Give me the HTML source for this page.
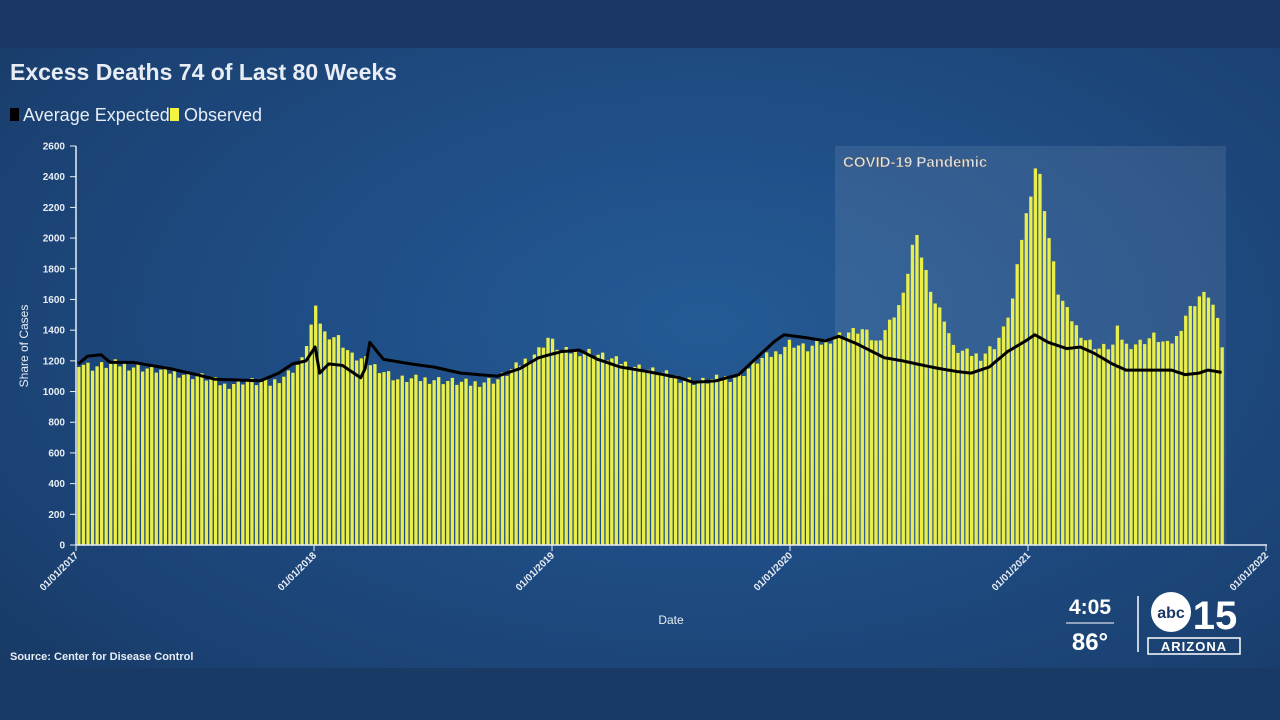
<!DOCTYPE html>
<html><head><meta charset="utf-8"><style>
body{margin:0;width:1280px;height:720px;overflow:hidden;background:#1a3d6e;font-family:"Liberation Sans",sans-serif}
#bg{position:absolute;left:0;top:0;width:1280px;height:720px;background:radial-gradient(ellipse at 55% 45%,#255a94 0%,#1f4d85 40%,#1a4070 80%,#163760 100%)}
#top{position:absolute;left:0;top:0;width:1280px;height:48px;background:#1a3863}
#bot{position:absolute;left:0;top:668px;width:1280px;height:52px;background:#1a3a66}
svg{position:absolute;left:0;top:0}
</style></head><body>
<div id="bg"></div><div id="top"></div><div id="bot"></div>
<svg id="s" width="1280" height="720" xmlns="http://www.w3.org/2000/svg">
<text x="10" y="80" fill="#e8edf5" font-size="23" font-weight="bold" font-family="Liberation Sans Narrow, Liberation Sans, sans-serif">Excess Deaths 74 of Last 80 Weeks</text>
<rect x="10" y="108" width="9" height="13" fill="#000"/>
<text x="23" y="121" fill="#e8edf5" font-size="18" font-family="Liberation Sans Narrow, Liberation Sans, sans-serif">Average Expected</text>
<rect x="170" y="108" width="9" height="13" fill="#f3f542"/>
<text x="184" y="121" fill="#e8edf5" font-size="18" font-family="Liberation Sans Narrow, Liberation Sans, sans-serif">Observed</text>
<rect x="835" y="146" width="391" height="399" fill="rgba(255,255,255,0.09)"/>
<text x="843" y="167" fill="#dfe5ee" font-size="15" font-weight="bold" stroke="#555" stroke-width="0.5" font-family="Liberation Sans Narrow, Liberation Sans, sans-serif">COVID-19 Pandemic</text>
<g id="bars"></g>
<polyline id="line" fill="none" stroke="#000" stroke-width="3" stroke-linejoin="round"/>
<g id="axes" fill="#e8edf5" font-size="10" font-weight="bold" font-family="Liberation Sans Narrow, Liberation Sans, sans-serif"></g>
<text x="671" y="624" fill="#e8edf5" font-size="12" text-anchor="middle">Date</text>
<text transform="translate(28,346) rotate(-90)" fill="#e8edf5" font-size="12" text-anchor="middle">Share of Cases</text>
<text x="10" y="660" fill="#e8edf5" font-size="11" font-weight="bold">Source: Center for Disease Control</text>
<text x="1090" y="614" fill="#fff" font-size="21" font-weight="bold" text-anchor="middle">4:05</text>
<line x1="1066" y1="623" x2="1114" y2="623" stroke="#fff" stroke-width="1"/>
<text x="1090" y="650" fill="#fff" font-size="24" font-weight="bold" text-anchor="middle">86°</text>
<line x1="1138" y1="596" x2="1138" y2="652" stroke="#fff" stroke-width="1.5"/>
<circle cx="1171" cy="612" r="20" fill="#fff"/>
<text x="1171" y="618" fill="#1a3863" font-size="16" font-weight="bold" text-anchor="middle">abc</text>
<text x="1215" y="629" fill="#fff" font-size="40" font-weight="bold" text-anchor="middle">15</text>
<rect x="1148" y="638" width="92" height="16" fill="none" stroke="#fff" stroke-width="1.5"/>
<text x="1194" y="651" fill="#fff" font-size="13" font-weight="bold" text-anchor="middle" letter-spacing="1">ARIZONA</text>
</svg>
<script>
var obs=[[0,1190],[3,1160],[8,1180],[15,1150],[22,1120],[28,1090],[32,1040],[36,1070],[42,1050],[46,1120],[49,1200],[51,1430],[52,1530],[54,1380],[57,1350],[60,1230],[63,1200],[66,1150],[70,1080],[78,1080],[86,1050],[92,1080],[97,1180],[101,1270],[103,1350],[106,1260],[112,1260],[118,1200],[124,1150],[130,1100],[136,1060],[140,1080],[145,1100],[149,1200],[153,1250],[156,1320],[160,1280],[164,1330],[168,1380],[172,1400],[175,1320],[178,1450],[181,1620],[183,1950],[184,1990],[186,1780],[188,1580],[190,1480],[192,1280],[195,1250],[198,1230],[201,1300],[203,1400],[205,1600],[207,2000],[209,2300],[210,2460],[211,2400],[213,2000],[215,1650],[217,1520],[219,1420],[221,1340],[224,1280],[227,1300],[228,1400],[230,1300],[233,1320],[236,1360],[239,1300],[241,1350],[243,1500],[246,1620],[248,1630],[249,1560],[250,1450],[251,1300]];
var exp=[[0,1180],[2,1230],[5,1240],[7,1190],[12,1190],[20,1150],[26,1110],[30,1080],[40,1070],[44,1120],[47,1180],[50,1200],[52,1290],[53,1120],[55,1180],[58,1170],[62,1090],[63,1150],[64,1320],[67,1210],[73,1180],[78,1160],[84,1120],[92,1100],[97,1150],[101,1220],[106,1260],[110,1270],[114,1210],[119,1160],[125,1130],[132,1090],[135,1060],[140,1070],[145,1110],[150,1250],[153,1330],[155,1370],[160,1350],[164,1330],[167,1360],[171,1310],[177,1220],[181,1200],[184,1180],[189,1150],[193,1130],[196,1120],[200,1160],[204,1260],[208,1330],[210,1370],[213,1320],[217,1280],[220,1290],[223,1250],[227,1180],[230,1140],[235,1140],[240,1140],[243,1110],[246,1120],[248,1140],[251,1125]];
function interp(p,w){for(var i=0;i<p.length-1;i++){if(w>=p[i][0]&&w<=p[i+1][0]){var t=(w-p[i][0])/(p[i+1][0]-p[i][0]);return p[i][1]+t*(p[i+1][1]-p[i][1]);}}return p[p.length-1][1];}
var X=function(w){return 76+w*4.555;},Y=function(v){return 545-v*0.15346;};
var b='';for(var w=0;w<=251;w++){var v=interp(obs,w)+((w*37)%11-5)*6;b+='<rect x="'+(X(w)+1.2).toFixed(2)+'" y="'+Y(v).toFixed(1)+'" width="3.3" height="'+(545-Y(v)).toFixed(1)+'" fill="#e9ee4a"/>';}
document.getElementById('bars').innerHTML=b;
var pts=[];for(var w=0;w<=251;w+=0.5){pts.push(X(w+0.5).toFixed(1)+','+Y(interp(exp,w)).toFixed(1));}
document.getElementById('line').setAttribute('points',pts.join(' '));
var a='<line x1="76" y1="146" x2="76" y2="545" stroke="#e8edf5" stroke-width="1.5"/><line x1="76" y1="545" x2="1267" y2="545" stroke="#e8edf5" stroke-width="1.5"/>';
for(var v=0;v<=2600;v+=200){var y=Y(v);a+='<line x1="70" y1="'+y+'" x2="76" y2="'+y+'" stroke="#e8edf5"/><text x="65" y="'+(y+3.5)+'" text-anchor="end">'+v+'</text>';}
var yrs=['01/01/2017','01/01/2018','01/01/2019','01/01/2020','01/01/2021','01/01/2022'];
for(var i=0;i<6;i++){var x=76+i*238;a+='<line x1="'+x+'" y1="545" x2="'+x+'" y2="551" stroke="#e8edf5"/><text transform="translate('+(x+3)+',556) rotate(-45)" text-anchor="end">'+yrs[i]+'</text>';}
document.getElementById('axes').innerHTML=a;
</script>
</body></html>
